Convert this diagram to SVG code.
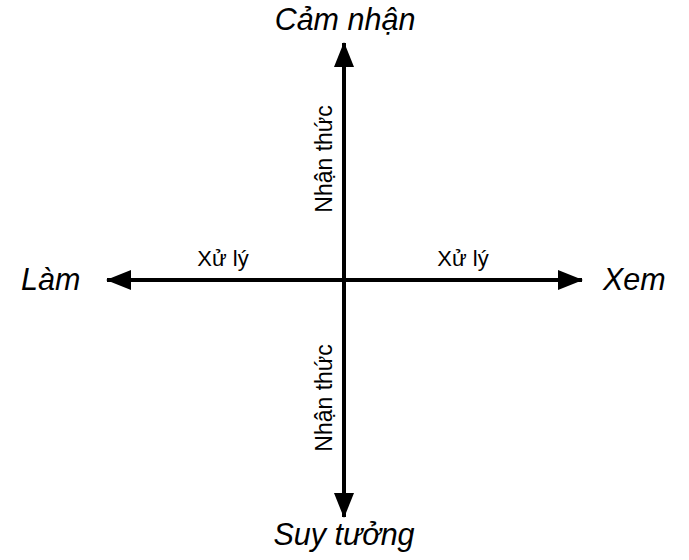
<svg xmlns="http://www.w3.org/2000/svg" width="689" height="560" viewBox="0 0 689 560">
<style>
.big{font-family:"Liberation Sans",Arial,sans-serif;font-style:italic;font-size:30.5px;fill:#000}
.lbl{font-family:"Liberation Sans",Arial,sans-serif;font-size:22px;fill:#000}
.vl{font-size:23px}
.ax{stroke:#000;stroke-width:4;fill:none}
</style>
<defs>
<marker id="ah" viewBox="0 0 25 20" refX="24" refY="10" markerWidth="25" markerHeight="20" markerUnits="userSpaceOnUse" orient="auto">
<path d="M0,0 L25,10 L0,20 z" fill="#000"/>
</marker>
</defs>
<rect width="689" height="560" fill="#fff"/>
<g id="connectors">
<line class="ax" x1="344" y1="280" x2="344" y2="43" marker-end="url(#ah)"/>
<line class="ax" x1="344" y1="280" x2="344" y2="517" marker-end="url(#ah)"/>
<line class="ax" x1="344" y1="280" x2="107" y2="280" marker-end="url(#ah)"/>
<line class="ax" x1="344" y1="280" x2="582" y2="280" marker-end="url(#ah)"/>
</g>
<g id="cam-nhan"><text class="big" x="345" y="30" text-anchor="middle">Cảm nhận</text></g>
<g id="lam"><text class="big" x="21" y="290">Làm</text></g>
<g id="xem"><text class="big" x="603" y="290">Xem</text></g>
<g id="suy-tuong"><text class="big" x="344" y="545" text-anchor="middle">Suy tưởng</text></g>
<g id="labels">
<text class="lbl" x="223" y="266" text-anchor="middle">Xử lý</text>
<text class="lbl" x="463" y="266" text-anchor="middle">Xử lý</text>
<text class="lbl vl" transform="translate(332,159) rotate(-90)" text-anchor="middle">Nhận thức</text>
<text class="lbl vl" transform="translate(332,398) rotate(-90)" text-anchor="middle">Nhận thức</text>
</g>
</svg>
